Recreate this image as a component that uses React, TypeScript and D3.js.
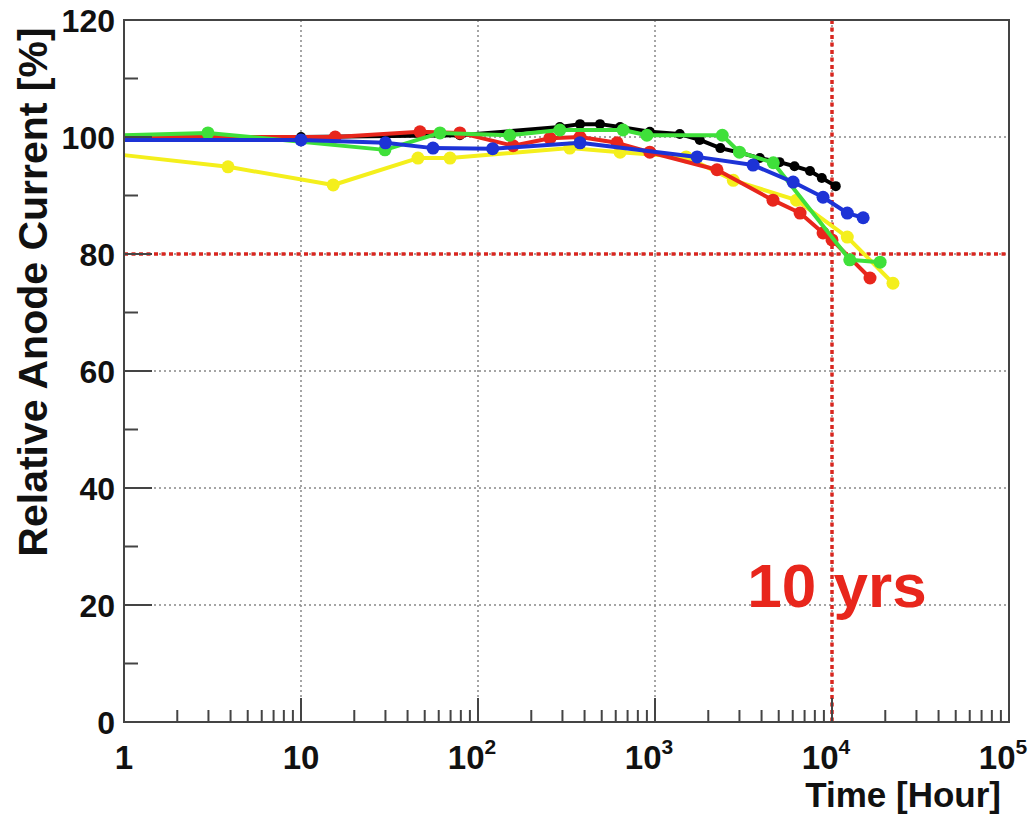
import React from "react";
import * as d3 from "d3";

const W = 1036;
const H = 818;

const blackHours = [1, 10, 79, 290, 377, 489, 635, 935, 1380, 1790, 2340, 3030, 3910, 5050, 6140, 7510, 8760, 10500];
const blackPct = [100, 100, 100.3, 101.7, 102.2, 102.2, 101.7, 100.9, 100.5, 99.5, 98.1, 97.3, 96.4, 95.7, 95.0, 94.2, 93.0, 91.6];

const redHours = [1, 15.6, 47, 79, 158, 255, 377, 610, 935, 2240, 4640, 6600, 8900, 10000, 16400];
const redPct = [100, 100, 100.9, 100.7, 98.5, 99.8, 100, 99, 97.4, 94.4, 89.2, 87, 83.6, 82.4, 75.9];

const yellowHours = [1, 3.87, 15.2, 45.8, 69.5, 330, 635, 1500, 2770, 6300, 12200, 22100];
const yellowPct = [96.9, 94.9, 91.8, 96.4, 96.4, 98.1, 97.4, 96.6, 92.6, 89.2, 82.9, 75.0];

const greenHours = [1, 2.98, 29.8, 61, 151, 290, 660, 900, 2400, 3000, 4660, 12600, 18700];
const greenPct = [100.3, 100.7, 97.8, 100.7, 100.3, 101.2, 101.2, 100.3, 100.3, 97.4, 95.6, 79, 78.6];

const blueHours = [1, 10, 30, 55.7, 121, 377, 1730, 3580, 6030, 8900, 12200, 15000];
const bluePct = [99.5, 99.5, 99.0, 98.1, 98.0, 99.0, 96.6, 95.2, 92.3, 89.7, 87.0, 86.2];

const yTicks = [0, 20, 40, 60, 80, 100, 120];
const xDecades = [1, 10, 100, 1000, 10000, 100000];
const xTickLabels = ["1", "10", "10^2", "10^3", "10^4", "10^5"];

const thresholdPct = 80;
const thresholdHours = 10000;

const series = [
  { name: "black", color: "#000000", hours: blackHours, pct: blackPct, r: 5 },
  { name: "yellow", color: "#f4ef1c", hours: yellowHours, pct: yellowPct, r: 6.5 },
  { name: "red", color: "#e8261c", hours: redHours, pct: redPct, r: 6.5 },
  { name: "green", color: "#3fe03a", hours: greenHours, pct: greenPct, r: 6.5 },
  { name: "blue", color: "#1d33d6", hours: blueHours, pct: bluePct, r: 6.5 },
];

export default function App() {
  const left = 124;
  const right = 1009;
  const top = 20;
  const bottom = 722;

  const x = d3.scaleLog().domain([1, 100000]).range([left, right]);
  const y = d3.scaleLinear().domain([0, 120]).range([bottom, top]);

  const line = d3
    .line<[number, number]>()
    .x((d) => x(d[0]))
    .y((d) => y(d[1]));

  const minorY = d3.range(0, 121, 10).filter((v) => v % 20 !== 0);
  const minorX: number[] = [];
  for (let e = 0; e < 5; e++) {
    for (let k = 2; k <= 9; k++) minorX.push(k * Math.pow(10, e));
  }

  const font = "'Liberation Sans', Arial, Helvetica, sans-serif";

  return (
    <svg
      width={W}
      height={H}
      style={{ position: "absolute", left: 0, top: 0, background: "#fff" }}
      fontFamily={font}
    >
      {/* grid */}
      {yTicks
        .filter((v) => v > 0 && v < 120)
        .map((v) => (
          <line
            key={"gy" + v}
            x1={left}
            x2={right}
            y1={y(v)}
            y2={y(v)}
            stroke="#888"
            strokeWidth={1.5}
            strokeDasharray="2,3"
          />
        ))}
      {xDecades
        .filter((v) => v > 1 && v < 100000)
        .map((v) => (
          <line
            key={"gx" + v}
            x1={x(v)}
            x2={x(v)}
            y1={top}
            y2={bottom}
            stroke="#888"
            strokeWidth={1.5}
            strokeDasharray="2,3"
          />
        ))}

      {/* threshold lines */}
      <line
        x1={left}
        x2={right}
        y1={y(thresholdPct)}
        y2={y(thresholdPct)}
        stroke="#d9261f"
        strokeWidth={3.5}
        strokeDasharray="4,3.5"
      />
      <line
        x1={x(thresholdHours)}
        x2={x(thresholdHours)}
        y1={top}
        y2={bottom}
        stroke="#d9261f"
        strokeWidth={3.5}
        strokeDasharray="4,3.5"
      />

      {/* series */}
      {series.map((s) => {
        const pts: [number, number][] = s.hours.map((h, i) => [h, s.pct[i]]);
        return (
          <g key={s.name}>
            <path d={line(pts) || ""} fill="none" stroke={s.color} strokeWidth={4} strokeLinejoin="round" />
            {pts.slice(1).map((p, i) => (
              <circle key={i} cx={x(p[0])} cy={y(p[1])} r={s.r} fill={s.color} />
            ))}
          </g>
        );
      })}

      {/* frame */}
      <rect
        x={left}
        y={top}
        width={right - left}
        height={bottom - top}
        fill="none"
        stroke="#444"
        strokeWidth={2}
      />

      {/* y ticks */}
      {yTicks.map((v) => (
        <line key={"ty" + v} x1={left} x2={left + 28} y1={y(v)} y2={y(v)} stroke="#444" strokeWidth={2} />
      ))}
      {minorY.map((v) => (
        <line key={"my" + v} x1={left} x2={left + 14} y1={y(v)} y2={y(v)} stroke="#444" strokeWidth={2} />
      ))}
      {yTicks.map((v) => (
        <text
          key={"ly" + v}
          x={left - 9}
          y={y(v) + 1}
          textAnchor="end"
          dominantBaseline="central"
          fontSize={32}
          fontWeight="bold"
          fill="#111"
        >
          {v}
        </text>
      ))}

      {/* x ticks */}
      {xDecades.map((v) => (
        <line key={"tx" + v} x1={x(v)} x2={x(v)} y1={bottom} y2={bottom - 24} stroke="#444" strokeWidth={2} />
      ))}
      {minorX.map((v) => (
        <line key={"mx" + v} x1={x(v)} x2={x(v)} y1={bottom} y2={bottom - 12} stroke="#444" strokeWidth={2} />
      ))}
      {xDecades.map((v, i) => {
        const lbl = xTickLabels[i];
        const parts = lbl.split("^");
        return (
          <text
            key={"lx" + v}
            x={x(v) + (parts.length > 1 ? -6 : 0)}
            y={769}
            textAnchor="middle"
            fontSize={33}
            fontWeight="bold"
            fill="#111"
          >
            {parts[0]}
            {parts.length > 1 && (
              <tspan fontSize={21} dy={-15}>
                {parts[1]}
              </tspan>
            )}
          </text>
        );
      })}

      {/* axis titles */}
      <text
        x={1001}
        y={807}
        textAnchor="end"
        fontSize={35}
        fontWeight="bold"
        fill="#111"
      >
        Time [Hour]
      </text>
      <text
        transform={`translate(47, 292) rotate(-90)`}
        textAnchor="middle"
        fontSize={41}
        fontWeight="bold"
        fill="#111"
      >
        Relative Anode Current [%]
      </text>

      {/* annotation */}
      <text
        x={837}
        y={607}
        textAnchor="middle"
        fontSize={62}
        fontWeight="bold"
        fill="#e8261c"
      >
        10 yrs
      </text>
    </svg>
  );
}
